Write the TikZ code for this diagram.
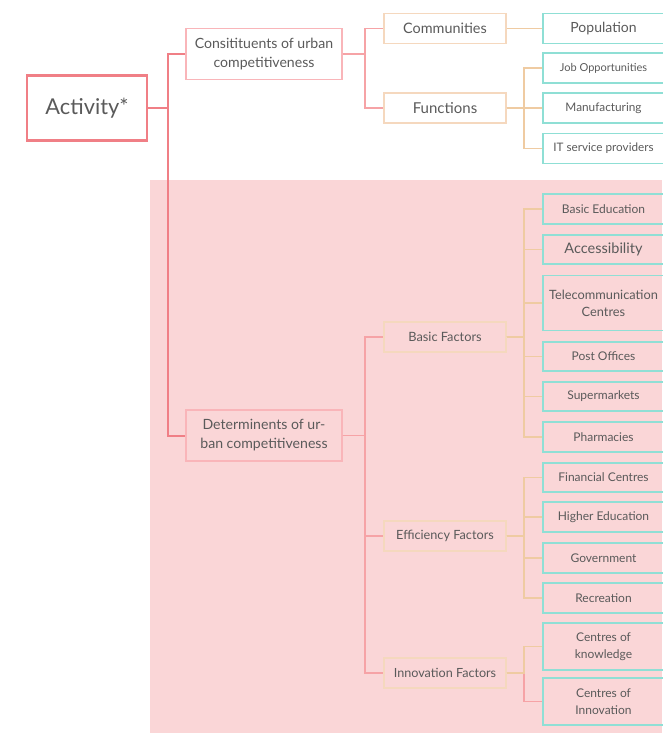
\documentclass[tikz,border=0pt]{standalone}
\usepackage{fontspec}
\setmainfont{Lato}
\definecolor{bgpink}{HTML}{FAD6D7}
\definecolor{trunk}{HTML}{F07F86}
\definecolor{lone}{HTML}{F9B5B9}
\definecolor{ltwo}{HTML}{F6A3A6}
\definecolor{btwo}{HTML}{F5D8BE}
\definecolor{lthree}{HTML}{EFCBA2}
\definecolor{teal}{HTML}{8FDFD5}
\definecolor{txt}{HTML}{5A5A5A}
\tikzset{
  x=1pt, y=-1pt,
  box/.style={draw, rectangle, inner sep=0pt, align=center, text=txt, line width=1.2pt},
  rootbox/.style={box, draw=trunk, line width=2.6pt, minimum width=120pt, minimum height=65pt, font=\fontsize{21.8}{25}\selectfont},
  onebox/.style={box, draw=lone, minimum width=156pt, minimum height=51pt, font=\fontsize{14.1}{19}\selectfont},
  twobox/.style={box, draw=btwo, minimum width=122pt, minimum height=30pt},
  threebox/.style={box, draw=teal, minimum width=121pt, minimum height=30pt, font=\fontsize{12}{17}\selectfont},
  cone/.style={draw=trunk, line width=2pt},
  ctwo/.style={draw=ltwo, line width=1.8pt},
  cthree/.style={draw=lthree, line width=1.8pt},
}
\begin{document}
\begin{tikzpicture}
\useasboundingbox (0,0) rectangle (662,733);
\fill[bgpink] (150,180) rectangle (662,733);

% root and level 1
\node[rootbox] (act) at (87,108) {Activity*};
\node[onebox, fill=white] (con) at (264,54) {Consitituents of urban\\competitiveness};
\node[onebox] (det) at (264,435.5) {Determinents of ur-\\ban competitiveness};

% level 2
\node[twobox, font=\fontsize{14.4}{17}\selectfont] (comm) at (445,28.5) {Communities};
\node[twobox, font=\fontsize{15}{17}\selectfont] (func) at (445,108) {Functions};
\node[twobox, font=\fontsize{12.8}{15}\selectfont] (bf) at (445,337) {Basic Factors};
\node[twobox, font=\fontsize{12.7}{15}\selectfont] (ef) at (445,536) {Efficiency Factors};
\node[twobox, font=\fontsize{12.6}{15}\selectfont] (inf) at (445,673) {Innovation Factors};

% level 3
\node[threebox, font=\fontsize{14}{17}\selectfont] (pop) at (603.5,28.5) {Population};
\node[threebox, font=\fontsize{11}{15}\selectfont] (job) at (603.5,68) {Job Opportunities};
\node[threebox, font=\fontsize{11.8}{15}\selectfont] (manu) at (603.5,108) {Manufacturing};
\node[threebox, font=\fontsize{11.7}{15}\selectfont] (it) at (603.5,148.5) {IT service providers};

\node[threebox] (be) at (603.5,209) {Basic Education};
\node[threebox, font=\fontsize{14.5}{17}\selectfont, minimum height=29pt] (acc) at (603.5,249.5) {Accessibility};
\node[threebox, font=\fontsize{12.8}{17}\selectfont, minimum height=55pt] (tel) at (603.5,303) {Telecommunication\\Centres};
\node[threebox, minimum height=29pt] (po) at (603.5,356.5) {Post Offices};
\node[threebox, minimum height=29pt] (sm) at (603.5,396.5) {Supermarkets};
\node[threebox] (ph) at (603.5,437) {Pharmacies};

\node[threebox, minimum height=29pt] (fc) at (603.5,477.5) {Financial Centres};
\node[threebox] (he) at (603.5,517) {Higher Education};
\node[threebox] (gov) at (603.5,558) {Government};
\node[threebox] (rec) at (603.5,598) {Recreation};

\node[threebox, minimum height=47pt, line width=1.8pt] (ck) at (603.5,646.5) {Centres of\\knowledge};
\node[threebox, minimum height=47pt, line width=1.8pt] (ci) at (603.5,701.5) {Centres of\\Innovation};

% connectors level 1
\draw[cone] (act.east) -- ++(20,0) |- (con.west);
\draw[cone] (act.east) -- ++(20,0) |- (det.west);

% connectors level 2
\draw[ctwo] (con.east) -- ++(22,0) |- (comm.west);
\draw[ctwo] (con.east) -- ++(22,0) |- (func.west);
\draw[ctwo] (det.east) -- ++(22,0) |- (bf.west);
\draw[ctwo] (det.east) -- ++(22,0) |- (ef.west);
\draw[ctwo] (det.east) -- ++(22,0) |- (inf.west);

% connectors level 3
\draw[cthree] (comm.east) -- (pop.west);
\foreach \c in {job,manu,it}
  \draw[cthree] (func.east) -- ++(17,0) |- (\c.west);
\foreach \c in {be,acc,tel,po,sm,ph}
  \draw[cthree] (bf.east) -- ++(17,0) |- (\c.west);
\foreach \c in {fc,he,gov,rec}
  \draw[cthree] (ef.east) -- ++(17,0) |- (\c.west);
\draw[ctwo] (inf.east) -- ++(17,0) |- (ci.west);
\draw[cthree] (inf.east) -- ++(17,0) |- (ck.west);
\end{tikzpicture}
\end{document}
